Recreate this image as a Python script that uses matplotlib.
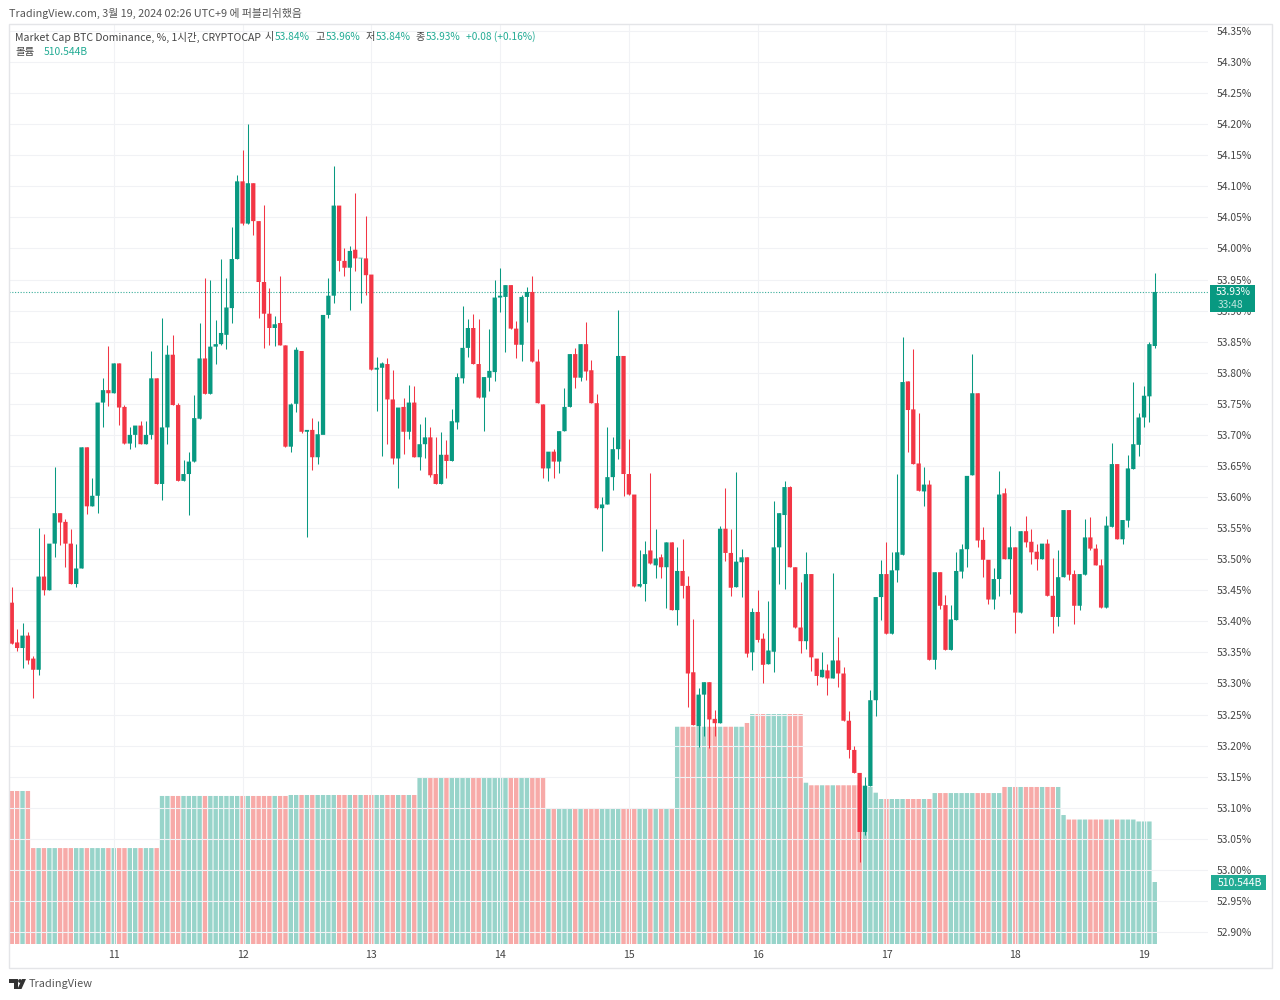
import matplotlib
matplotlib.use('Agg')
import matplotlib.pyplot as plt
from matplotlib.patches import Rectangle, Polygon, Circle

plt.rcParams['font.family'] = ['Noto Sans CJK KR', 'DejaVu Sans']

opens = [53.43, 53.366, 53.357, 53.377, 53.34, 53.322, 53.472, 53.45, 53.525, 53.574,
         53.56, 53.525, 53.46, 53.485, 53.68, 53.585, 53.602, 53.752, 53.772, 53.767,
         53.815, 53.745, 53.686, 53.70, 53.715, 53.685, 53.70, 53.791, 53.621, 53.712,
         53.829, 53.748, 53.626, 53.637, 53.657, 53.726, 53.823, 53.766, 53.842, 53.846,
         53.861, 53.904, 53.983, 54.108, 54.04, 54.105, 54.044, 53.946, 53.895, 53.872,
         53.88, 53.844, 53.681, 53.75, 53.835, 53.705, 53.708, 53.664, 53.70, 53.893,
         53.924, 54.069, 53.98, 53.969, 53.998, 53.984, 53.984, 53.958, 53.805, 53.808,
         53.814, 53.757, 53.662, 53.745, 53.705, 53.752, 53.664, 53.685, 53.696, 53.637,
         53.621, 53.668, 53.658, 53.72, 53.791, 53.84, 53.872, 53.814, 53.76, 53.792,
         53.801, 53.921, 53.922, 53.941, 53.871, 53.845, 53.922, 53.93, 53.818, 53.749,
         53.646, 53.673, 53.657, 53.706, 53.745, 53.83, 53.792, 53.846, 53.804, 53.751,
         53.582, 53.588, 53.632, 53.677, 53.827, 53.637, 53.604, 53.456, 53.46, 53.514,
         53.49, 53.503, 53.487, 53.527, 53.418, 53.481, 53.457, 53.318, 53.231, 53.282,
         53.302, 53.243, 53.236, 53.549, 53.51, 53.455, 53.495, 53.503, 53.35, 53.415,
         53.372, 53.331, 53.351, 53.519, 53.571, 53.616, 53.487, 53.39, 53.368, 53.476,
         53.34, 53.31, 53.321, 53.308, 53.337, 53.316, 53.24, 53.193, 53.156, 53.061,
         53.135, 53.273, 53.439, 53.476, 53.38, 53.482, 53.507, 53.786, 53.741, 53.654,
         53.609, 53.62, 53.338, 53.479, 53.426, 53.354, 53.402, 53.48, 53.516, 53.635,
         53.767, 53.531, 53.499, 53.435, 53.468, 53.606, 53.50, 53.519, 53.414, 53.545,
         53.528, 53.512, 53.50, 53.525, 53.441, 53.407, 53.471, 53.579, 53.476, 53.425,
         53.475, 53.535, 53.517, 53.49, 53.422, 53.552, 53.653, 53.532, 53.562, 53.645,
         53.684, 53.728, 53.762, 53.843]
highs = [53.456, 53.387, 53.398, 53.382, 53.344, 53.55, 53.54, 53.525, 53.648, 53.574,
         53.564, 53.548, 53.525, 53.68, 53.68, 53.63, 53.752, 53.791, 53.843, 53.815,
         53.815, 53.748, 53.712, 53.715, 53.722, 53.722, 53.835, 53.791, 53.888, 53.845,
         53.86, 53.752, 53.66, 53.672, 53.764, 53.88, 53.952, 53.949, 53.885, 53.983,
         53.952, 54.034, 54.118, 54.159, 54.20, 54.105, 54.044, 54.07, 53.936, 53.891,
         53.956, 53.844, 53.752, 53.841, 53.835, 53.708, 53.727, 53.722, 53.70, 53.952,
         54.133, 54.069, 54.0, 54.004, 54.089, 53.985, 54.053, 53.958, 53.825, 53.817,
         53.823, 53.804, 53.744, 53.759, 53.781, 53.778, 53.717, 53.729, 53.713, 53.697,
         53.705, 53.692, 53.741, 53.799, 53.907, 53.886, 53.894, 53.886, 53.793, 53.871,
         53.949, 53.969, 53.941, 53.941, 53.884, 53.925, 53.938, 53.955, 53.839, 53.749,
         53.673, 53.678, 53.706, 53.775, 53.83, 53.84, 53.846, 53.882, 53.82, 53.765,
         53.60, 53.713, 53.697, 53.901, 53.827, 53.694, 53.604, 53.515, 53.53, 53.638,
         53.548, 53.509, 53.527, 53.527, 53.52, 53.532, 53.473, 53.404, 53.292, 53.302,
         53.302, 53.258, 53.554, 53.614, 53.549, 53.64, 53.516, 53.503, 53.421, 53.45,
         53.381, 53.432, 53.594, 53.574, 53.626, 53.618, 53.487, 53.464, 53.512, 53.476,
         53.34, 53.35, 53.332, 53.477, 53.375, 53.327, 53.255, 53.199, 53.156, 53.15,
         53.289, 53.439, 53.499, 53.527, 53.512, 53.637, 53.858, 53.786, 53.838, 53.736,
         53.649, 53.627, 53.479, 53.479, 53.443, 53.426, 53.512, 53.525, 53.634, 53.83,
         53.767, 53.552, 53.499, 53.485, 53.642, 53.614, 53.554, 53.519, 53.545, 53.57,
         53.548, 53.525, 53.525, 53.532, 53.502, 53.515, 53.579, 53.579, 53.483, 53.476,
         53.564, 53.568, 53.525, 53.501, 53.57, 53.687, 53.653, 53.563, 53.668, 53.785,
         53.735, 53.778, 53.85, 53.96]
lows = [53.364, 53.353, 53.325, 53.332, 53.277, 53.313, 53.442, 53.45, 53.504, 53.522,
        53.488, 53.46, 53.455, 53.485, 53.572, 53.585, 53.575, 53.712, 53.747, 53.767,
        53.716, 53.686, 53.678, 53.68, 53.685, 53.685, 53.694, 53.621, 53.596, 53.685,
        53.748, 53.626, 53.626, 53.571, 53.657, 53.726, 53.766, 53.766, 53.814, 53.845,
        53.838, 53.88, 53.983, 54.038, 54.04, 54.022, 53.888, 53.84, 53.845, 53.843,
        53.844, 53.681, 53.672, 53.737, 53.703, 53.536, 53.644, 53.653, 53.70, 53.888,
        53.913, 53.963, 53.955, 53.901, 53.963, 53.912, 53.925, 53.805, 53.739, 53.666,
        53.686, 53.653, 53.614, 53.67, 53.694, 53.664, 53.644, 53.663, 53.633, 53.621,
        53.621, 53.63, 53.658, 53.709, 53.783, 53.825, 53.814, 53.76, 53.707, 53.77,
        53.786, 53.897, 53.834, 53.871, 53.823, 53.819, 53.881, 53.818, 53.751, 53.63,
        53.625, 53.63, 53.639, 53.706, 53.745, 53.776, 53.786, 53.788, 53.751, 53.58,
        53.513, 53.588, 53.611, 53.661, 53.602, 53.604, 53.456, 53.456, 53.432, 53.493,
        53.469, 53.469, 53.421, 53.418, 53.394, 53.438, 53.262, 53.233, 53.198, 53.215,
        53.196, 53.215, 53.236, 53.497, 53.44, 53.455, 53.439, 53.343, 53.322, 53.367,
        53.301, 53.331, 53.318, 53.46, 53.452, 53.487, 53.39, 53.349, 53.355, 53.32,
        53.297, 53.31, 53.281, 53.308, 53.295, 53.24, 53.18, 53.156, 53.013, 53.056,
        53.135, 53.248, 53.402, 53.38, 53.38, 53.463, 53.507, 53.672, 53.653, 53.61,
        53.586, 53.338, 53.324, 53.42, 53.354, 53.354, 53.402, 53.469, 53.487, 53.635,
        53.52, 53.471, 53.428, 53.419, 53.44, 53.50, 53.444, 53.381, 53.414, 53.52,
        53.493, 53.482, 53.50, 53.441, 53.381, 53.392, 53.471, 53.466, 53.396, 53.418,
        53.475, 53.515, 53.49, 53.422, 53.422, 53.552, 53.532, 53.525, 53.552, 53.645,
        53.666, 53.712, 53.72, 53.84]
closes = [53.364, 53.357, 53.377, 53.337, 53.322, 53.472, 53.45, 53.525, 53.574, 53.559,
          53.525, 53.46, 53.485, 53.68, 53.585, 53.602, 53.752, 53.772, 53.767, 53.815,
          53.744, 53.686, 53.70, 53.715, 53.685, 53.70, 53.791, 53.621, 53.712, 53.829,
          53.748, 53.626, 53.637, 53.657, 53.727, 53.823, 53.766, 53.842, 53.846, 53.864,
          53.905, 53.983, 54.108, 54.04, 54.105, 54.044, 53.946, 53.895, 53.872, 53.878,
          53.844, 53.681, 53.749, 53.837, 53.705, 53.708, 53.664, 53.701, 53.893, 53.924,
          54.069, 53.98, 53.969, 53.996, 53.984, 53.985, 53.957, 53.805, 53.808, 53.815,
          53.757, 53.662, 53.744, 53.705, 53.752, 53.664, 53.685, 53.696, 53.635, 53.621,
          53.668, 53.658, 53.722, 53.793, 53.84, 53.872, 53.814, 53.76, 53.793, 53.803,
          53.921, 53.924, 53.941, 53.871, 53.845, 53.922, 53.93, 53.818, 53.751, 53.646,
          53.673, 53.657, 53.706, 53.745, 53.83, 53.792, 53.846, 53.802, 53.751, 53.582,
          53.588, 53.632, 53.677, 53.827, 53.637, 53.604, 53.456, 53.46, 53.508, 53.493,
          53.501, 53.487, 53.527, 53.418, 53.481, 53.457, 53.316, 53.233, 53.282, 53.302,
          53.242, 53.236, 53.549, 53.51, 53.454, 53.496, 53.503, 53.348, 53.415, 53.37,
          53.33, 53.353, 53.519, 53.574, 53.616, 53.487, 53.39, 53.368, 53.476, 53.342,
          53.312, 53.322, 53.308, 53.337, 53.316, 53.24, 53.193, 53.156, 53.061, 53.135,
          53.273, 53.439, 53.476, 53.38, 53.482, 53.511, 53.785, 53.74, 53.653, 53.61,
          53.62, 53.338, 53.479, 53.425, 53.354, 53.403, 53.481, 53.516, 53.634, 53.767,
          53.53, 53.499, 53.435, 53.468, 53.604, 53.50, 53.519, 53.414, 53.545, 53.527,
          53.511, 53.50, 53.525, 53.441, 53.407, 53.471, 53.579, 53.475, 53.425, 53.476,
          53.535, 53.517, 53.49, 53.422, 53.554, 53.653, 53.532, 53.563, 53.646, 53.685,
          53.728, 53.763, 53.846, 53.93]
volumes = [1260, 1260, 1260, 1260] + [790] * 24 + [1219] * 24 + [1227] * 24 + [1375] * 24 + [1112] * 24 \
    + [1789] * 13 + [1820] + [1894] * 10 + [1328] + [1307] * 11 + [1295, 1246] + [1194] * 10 \
    + [1243] * 13 + [1293] * 11 + [1062] + [1025] * 13 + [1009, 1009, 1009, 510.544]

price_ticks = [52.90, 52.95, 53.00, 53.05, 53.10, 53.15, 53.20, 53.25, 53.30, 53.35,
               53.40, 53.45, 53.50, 53.55, 53.60, 53.65, 53.70, 53.75, 53.80, 53.85,
               53.90, 53.95, 54.00, 54.05, 54.10, 54.15, 54.20, 54.25, 54.30, 54.35]
day_ticks = [19, 43, 67, 91, 115, 139, 163, 187, 211]
day_labels = ['11', '12', '13', '14', '15', '16', '17', '18', '19']

GREEN = '#089981'
RED = '#f23645'
W, H = 1280, 1000
L, R, T, B = 9, 1208, 24, 944
XLIM = (-0.52, 222.92)

fig = plt.figure(figsize=(12.8, 10), dpi=100, facecolor='white')
rect = [L / W, 1 - B / H, (R - L) / W, (B - T) / H]

# volume sits underneath, same pixels as the price pane
ax_v = fig.add_axes(rect)
ax = fig.add_axes(rect)
ax.patch.set_visible(False)

xs = list(range(len(closes)))
up = [c >= o for o, c in zip(opens, closes)]

vol_bars = ax_v.bar(xs, volumes, width=0.82, color=['#98d4ca' if u else '#f7aaa8' for u in up], linewidth=0)
for b in vol_bars:
    b.set_snap(False)
ax_v.set_xlim(*XLIM)
ax_v.set_ylim(0, 7576)
ax_v.axis('off')

colors = [GREEN if u else RED for u in up]
ax.vlines(xs, lows, highs, colors=colors, linewidth=0.75, zorder=3)
bodies = ax.bar(xs, [abs(c - o) for o, c in zip(opens, closes)], bottom=[min(o, c) for o, c in zip(opens, closes)],
                width=0.8, color=colors, linewidth=0, zorder=4)
for b in bodies:
    b.set_snap(False)

ax.set_xlim(*XLIM)
ax.set_ylim(52.8807, 54.3612)
ax.set_yticks(price_ticks)
ax.set_yticklabels(['%.2f%%' % p for p in price_ticks])
ax.set_xticks(day_ticks)
ax.set_xticklabels(day_labels)
ax.yaxis.tick_right()
ax.tick_params(axis='y', length=0, pad=6.5, labelsize=7.4, labelcolor='#444444')
ax.tick_params(axis='x', length=0, pad=4, labelsize=7.6, labelcolor='#444444')
ax.grid(True, color='#f1f2f5', linewidth=0.8, zorder=0)
ax.set_axisbelow(True)
for s in ax.spines.values():
    s.set_visible(False)

ax.axhline(closes[-1], color=GREEN, linewidth=0.8, linestyle=(0, (1, 1.5)), alpha=0.8, zorder=2)

# overlay in pixels for header, price boxes, frame and logo
ov = fig.add_axes([0, 0, 1, 1], zorder=10)
ov.set_xlim(0, W)
ov.set_ylim(H, 0)
ov.axis('off')

ov.add_patch(Rectangle((9, 24), 1263, 944, fill=False, edgecolor='#e4e5e8', linewidth=1))

DARK = '#444444'
TEAL = '#22ab94'
ov.text(9, 13, 'TradingView.com, 3월 19, 2024 02:26 UTC+9 에 퍼블리쉬했음', fontsize=7.8, color='#555555', va='center')
ov.text(15, 37, 'Market Cap BTC Dominance, %, 1시간, CRYPTOCAP', fontsize=7.55, color=DARK, va='center')
for x, txt, col in [(265, '시', DARK), (275, '53.84%', TEAL), (316, '고', DARK), (326, '53.96%', TEAL),
                    (366, '저', DARK), (376, '53.84%', TEAL), (416, '종', DARK), (426, '53.93%', TEAL),
                    (466, '+0.08 (+0.16%)', TEAL)]:
    ov.text(x, 37, txt, fontsize=7.3, color=col, va='center')
ov.text(16, 52, '볼륨', fontsize=7.5, color=DARK, va='center')
ov.text(44, 52, '510.544B', fontsize=7.4, color=TEAL, va='center')

ov.add_patch(Rectangle((1210, 285), 45, 27, color=GREEN, linewidth=0))
ov.text(1233, 292, '53.93%', fontsize=7.4, color='white', ha='center', va='center')
ov.text(1231, 304.5, '33:48', fontsize=7.4, color='#bfe6df', ha='center', va='center')
ov.add_patch(Rectangle((1211, 875), 55, 15, color=TEAL, linewidth=0))
ov.text(1240, 882.5, '510.544B', fontsize=7.5, color='white', ha='center', va='center')

# TradingView logo
LOGO = '#333333'
ov.add_patch(Polygon([(9, 979), (18, 979), (18, 989), (14, 989), (14, 983), (9, 983)], color=LOGO, linewidth=0))
ov.add_patch(Circle((20, 981), 1.9, color=LOGO, linewidth=0))
ov.add_patch(Polygon([(22, 979), (26, 979), (21.5, 989), (17.5, 989)], color=LOGO, linewidth=0))
ov.text(29, 984, 'TradingView', fontsize=7.9, color='#555555', va='center')

fig.savefig('out.png', dpi=100, facecolor='white')
